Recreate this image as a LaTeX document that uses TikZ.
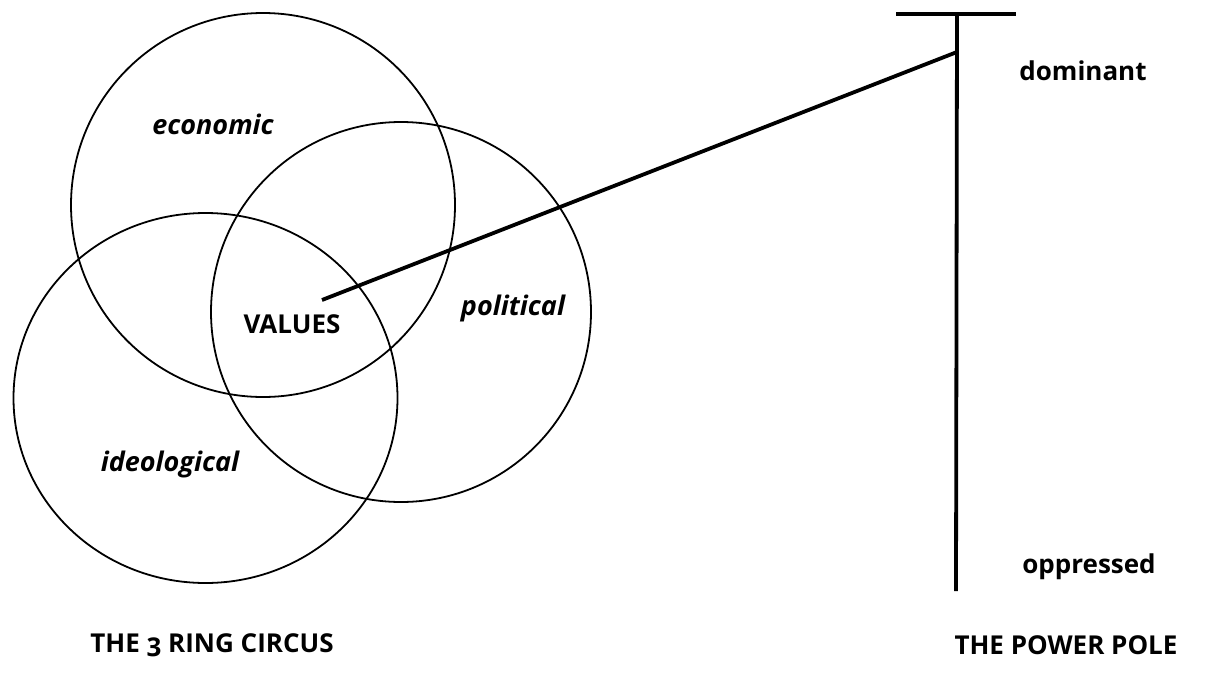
\documentclass[tikz,border=0pt]{standalone}
\usepackage{fontspec}
\setmainfont{Open Sans}[Numbers=OldStyle]
\begin{document}
\begin{tikzpicture}[x=1pt,y=-1pt,
  ring/.style={draw=black,line width=1.8pt},
  pole/.style={draw=black,line width=3.8pt},
  lbl/.style={font=\fontsize{27}{32}\selectfont\bfseries\itshape,inner sep=0pt},
  tag/.style={font=\fontsize{26}{31}\selectfont\bfseries,inner sep=0pt}]
\useasboundingbox (0,0) rectangle (1212,675);
% rings
\draw[ring] (263,205) circle[radius=192];
\draw[ring] (401,312) circle[radius=190];
\draw[ring] (205.5,398) ellipse[x radius=192,y radius=185];
% labels in rings
\node[lbl] (eco) at (213,124) {economic};
\node[lbl] (pol) at (513,308) {political};
\node[lbl] (ide) at (170,464) {ideological};
\node[tag] (val) at (292,324) {VALUES};
% power pole
\coordinate (ptop) at (957,14);
\coordinate (pbot) at (956,591);
\coordinate (tl) at (896,14);
\coordinate (tr) at (1016,14);
\coordinate (link) at (957,52);
\coordinate (vstart) at (322,300);
\draw[pole] (tl) -- (tr);
\draw[pole] (ptop) -- (pbot);
\draw[pole] (vstart) -- (link);
\node[tag] (dom) at (1083,71) {dominant};
\node[tag] (opp) at (1089,567) {oppressed};
% captions
\node[tag] (circus) at (212,645) {THE 3 RING CIRCUS};
\node[tag] (power) at (1066,645) {THE POWER POLE};
\end{tikzpicture}
\end{document}
